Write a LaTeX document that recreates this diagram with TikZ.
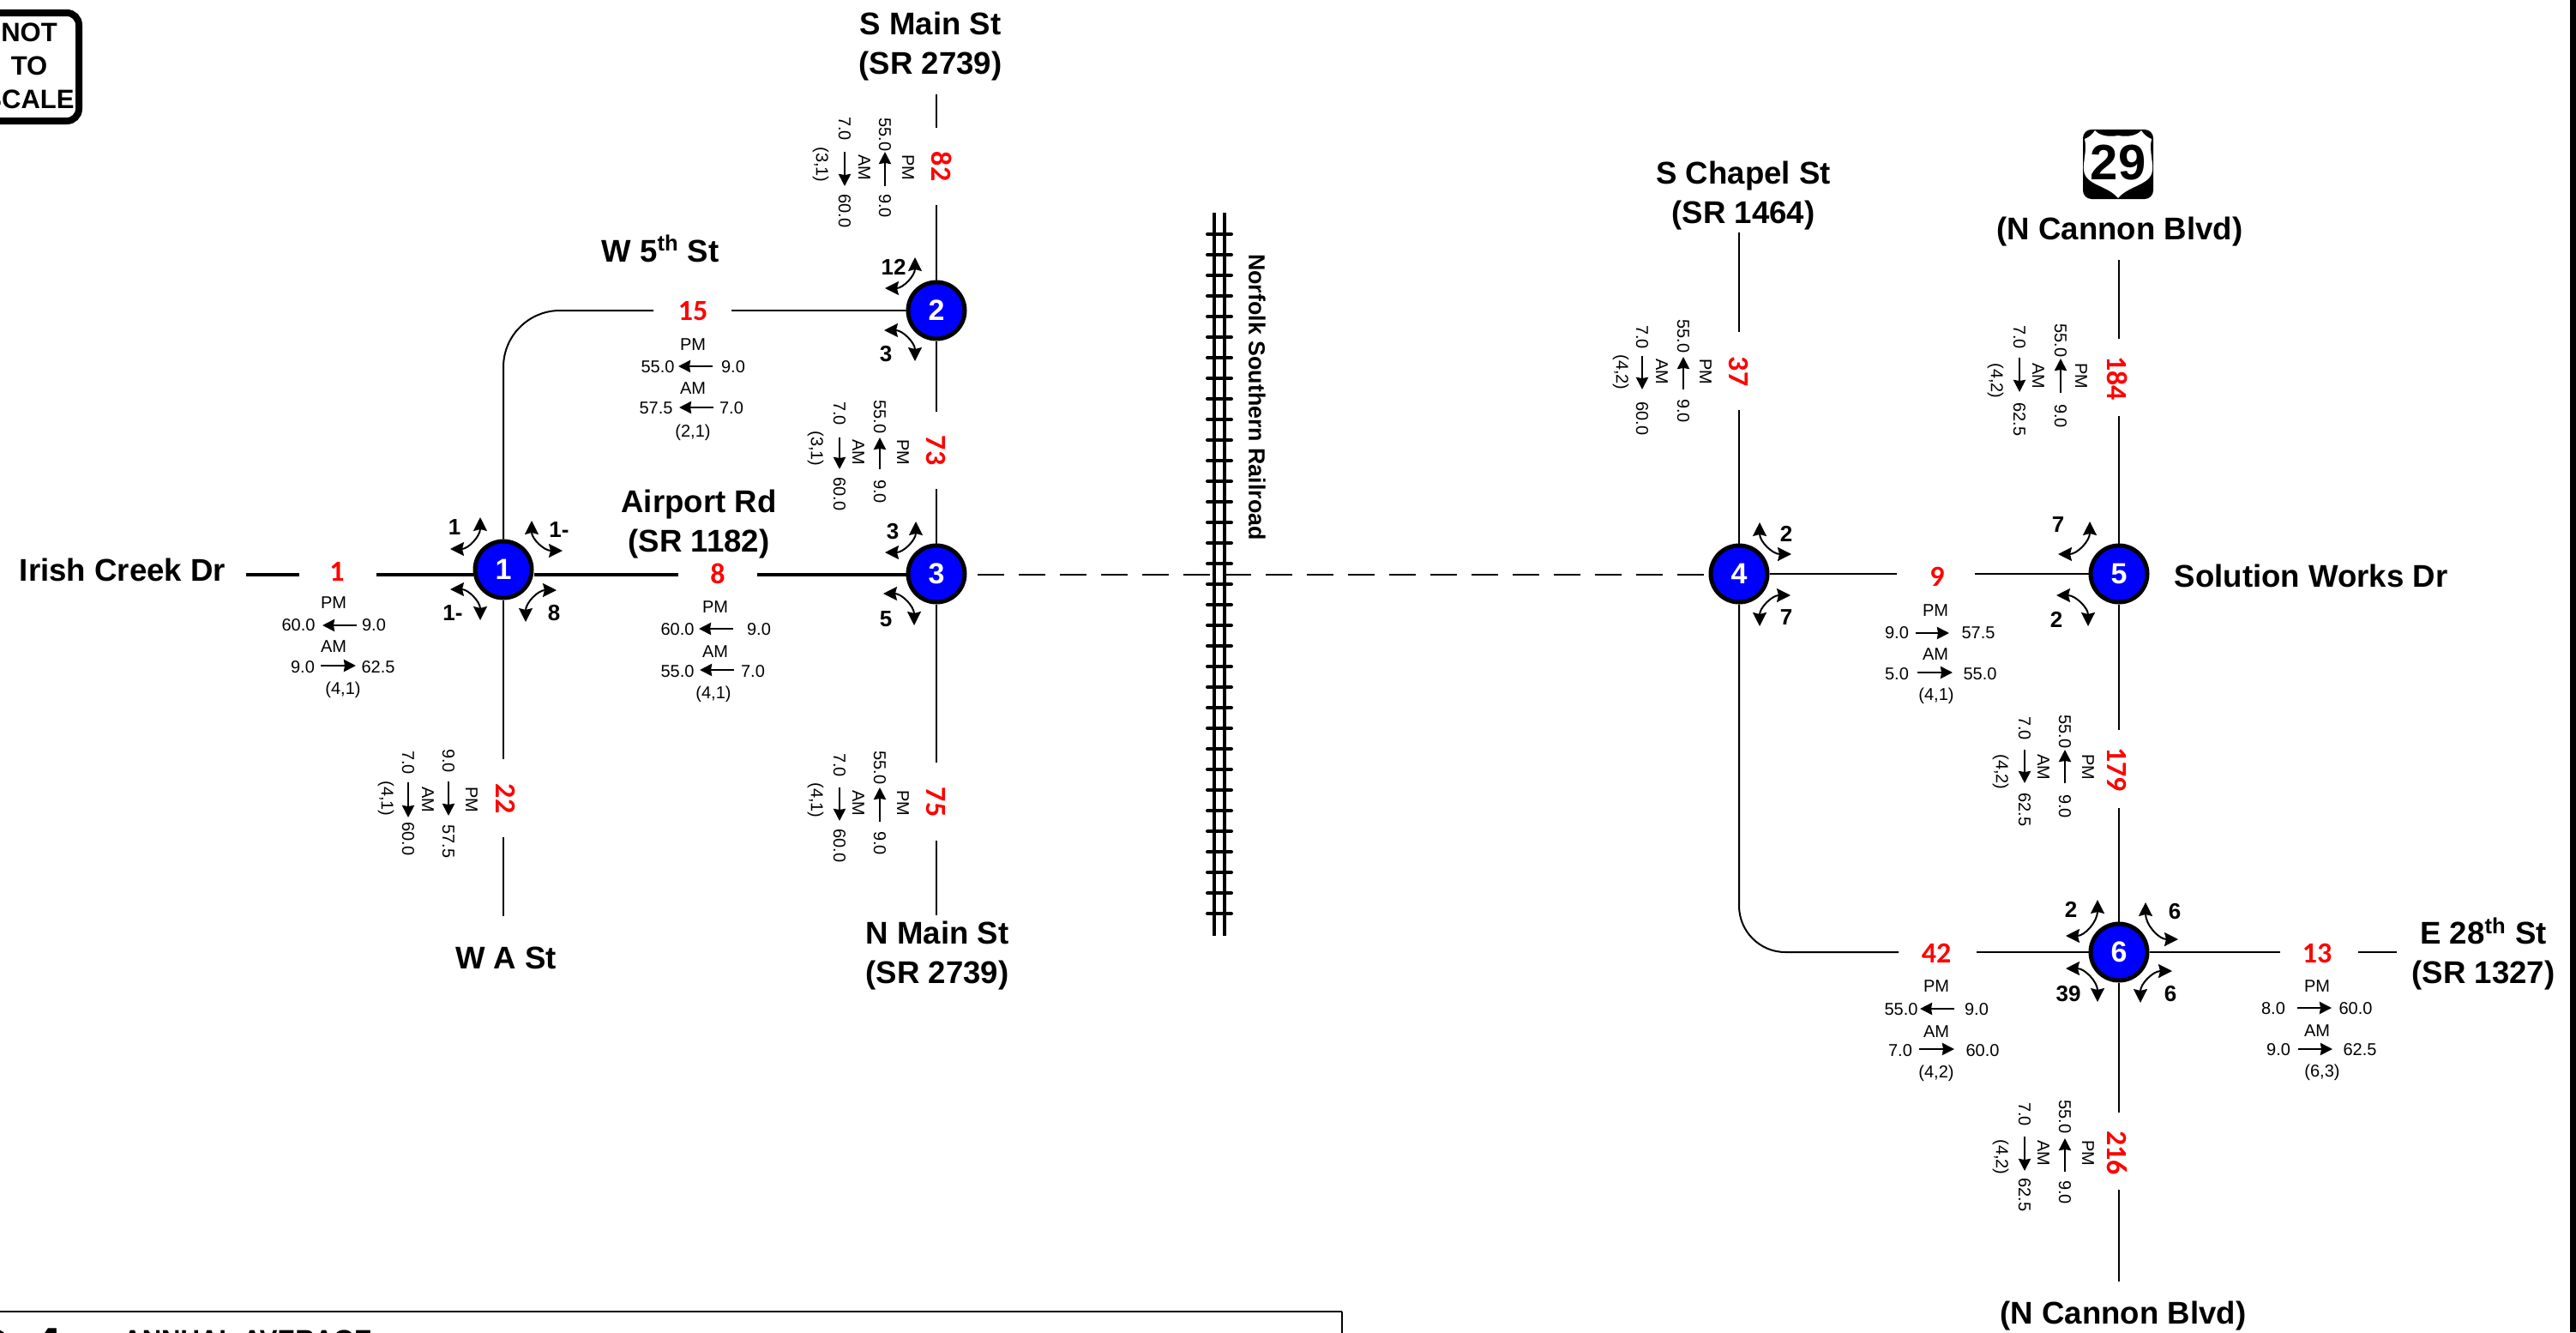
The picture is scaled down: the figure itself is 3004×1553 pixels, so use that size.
\documentclass[tikz,border=0pt]{standalone}
\usepackage{fontspec}
\usetikzlibrary{arrows.meta}
\setmainfont{Liberation Sans}
\newfontfamily\volfont{Carlito}
\newcount\labn
\labn=0
\tikzset{
  roadname/.style={font=\fontsize{18.3}{23}\selectfont\bfseries,align=center,inner sep=0pt},
  smalltxt/.style={font=\fontsize{10}{12}\selectfont,inner sep=0pt},
  vol/.style={font=\fontsize{17}{19}\selectfont\volfont\bfseries,text=red,inner sep=0pt},
  turnlab/.style={font=\fontsize{13}{15}\selectfont\bfseries,inner sep=0pt},
  junction/.style={circle,draw=black,fill=blue,line width=2.5pt,minimum size=33pt,inner sep=0pt,text=white,font=\fontsize{17}{19}\selectfont\bfseries},
  road/.style={line width=1.25pt},
  thickroad/.style={line width=1.8pt},
  thinroad/.style={line width=1pt},
  flow/.style={line width=1.4pt,-{Stealth[length=7pt,width=7pt,inset=0.5pt]}},
  turn/.style={line width=1pt,{Stealth[length=8pt,width=8pt,inset=1pt]}-{Stealth[length=8pt,width=8pt,inset=1pt]}},
  rail/.style={line width=2pt},
  tie/.style={line width=2pt,line cap=round},
}
\newcommand\hv[3]{\global\advance\labn by 1 \node[smalltxt] (t\the\labn) at (#1,#2) {#3};}
\newcommand\vv[3]{\global\advance\labn by 1 \node[smalltxt,rotate=-90] (t\the\labn) at (#1,#2) {#3};}
\newcommand\fa[4]{\draw[flow] (#1,#2) -- (#3,#4);}
\newcommand\turnar[4]{\draw[turn] (#1,#2) .. controls ({#1},{#2+0.6*(#4-#2)}) and ({#3+0.6*(#1-#3)},{#4}) .. (#3,#4);}
\newcommand\tl[3]{\global\advance\labn by 1 \node[turnlab] (t\the\labn) at (#1,#2) {#3};}
\begin{document}
\begin{tikzpicture}[x=0.5pt,y=-0.5pt]
\useasboundingbox (0,0) rectangle (3004,1553);
% junctions
\node[junction] (n1) at (587,664) {1};
\node[junction] (n2) at (1092,362) {2};
\node[junction] (n3) at (1092,669) {3};
\node[junction] (n4) at (2028,669) {4};
\node[junction] (n5) at (2471,669) {5};
\node[junction] (n6) at (2471,1110) {6};
% volumes
\node[vol] (v1) at (393,666) {1};
\node[vol] (v8) at (837,669) {8};
\node[vol] (v15) at (808,363) {15};
\node[vol,rotate=-90] (v82) at (1098,194) {82};
\node[vol,rotate=-90] (v73) at (1092,525) {73};
\node[vol,rotate=-90] (v75) at (1091,935) {75};
\node[vol,rotate=-90] (v22) at (590,931) {22};
\node[vol,rotate=-90] (v37) at (2028,433) {37};
\node[vol,rotate=-90] (v184) at (2469,441) {184};
\node[vol] (v9) at (2259,672) {9};
\node[vol,rotate=-90] (v179) at (2469,897) {179};
\node[vol] (v42) at (2258,1111) {42};
\node[vol] (v13) at (2702,1111) {13};
\node[vol,rotate=-90] (v216) at (2469,1344) {216};
% road end points
\coordinate (a1) at (287,670); \coordinate (a2) at (349,670); \coordinate (a3) at (439,670);
\coordinate (b1) at (791,670); \coordinate (b2) at (883,670);
\coordinate (c1) at (587,885); \coordinate (c2) at (587,976); \coordinate (c3) at (587,1068);
\coordinate (e0) at (587,362); \coordinate (e1) at (762,362); \coordinate (e2) at (853,362);
\coordinate (f1) at (1092,110); \coordinate (f2) at (1092,149); \coordinate (f3) at (1092,239);
\coordinate (f4) at (1092,480); \coordinate (f5) at (1092,570);
\coordinate (f6) at (1092,889); \coordinate (f7) at (1092,980); \coordinate (f8) at (1092,1067);
\coordinate (d1) at (1140,670); \coordinate (d2) at (1987,670);
\coordinate (g1) at (2028,271); \coordinate (g2) at (2028,387); \coordinate (g3) at (2028,478);
\coordinate (g4) at (2028,1110); \coordinate (g5) at (2214,1110); \coordinate (g6) at (2305,1110);
\coordinate (h1) at (2212,669); \coordinate (h2) at (2303,669);
\coordinate (i1) at (2471,303); \coordinate (i2) at (2471,395); \coordinate (i3) at (2471,485);
\coordinate (i4) at (2471,851); \coordinate (i5) at (2471,942);
\coordinate (i6) at (2471,1297); \coordinate (i7) at (2471,1387); \coordinate (i8) at (2471,1494);
\coordinate (k1) at (2659,1110); \coordinate (k2) at (2750,1110); \coordinate (k3) at (2795,1110);
% roads
\draw[thickroad] (a1) -- (a2);
\draw[thickroad] (a3) -- (n1.west |- a3);
\draw[thickroad] (n1.east |- b1) -- (b1);
\draw[thickroad] (b2) -- (n3.west |- b2);
\draw[road] (n1) -- (c1);
\draw[road] (c2) -- (c3);
\draw[thinroad,rounded corners=33pt] (n1) -- (e0) -- (e1);
\draw[thinroad] (e2) -- (n2);
\draw[road] (f1) -- (f2);
\draw[road] (f3) -- (n2);
\draw[road] (n2) -- (f4);
\draw[road] (f5) -- (n3);
\draw[road] (n3) -- (f6);
\draw[road] (f7) -- (f8);
\draw[road,dash pattern=on 15.5pt off 8.5pt] (d1) -- (d2);
\draw[road] (g1) -- (g2);
\draw[road] (g3) -- (n4);
\draw[thinroad,rounded corners=27pt] (n4) -- (g4) -- (g5);
\draw[road] (g6) -- (n6);
\draw[road] (n4) -- (h1);
\draw[road] (h2) -- (n5);
\draw[road] (i1) -- (i2);
\draw[road] (i3) -- (n5);
\draw[road] (n5) -- (i4);
\draw[road] (i5) -- (n6);
\draw[road] (n6) -- (i6);
\draw[road] (i7) -- (i8);
\draw[road] (n6) -- (k1);
\draw[road] (k2) -- (k3);
% railroad
\draw[rail] (1416,248) -- (1416,1091);
\draw[rail] (1428,248) -- (1428,1091);
\foreach \ty in {0,...,33} {\draw[tie] (1408,273+24*\ty) -- (1436,273+24*\ty);}
\node[font=\fontsize{13.4}{15}\selectfont\bfseries,rotate=-90,inner sep=0pt] (rr) at (1466,463) {Norfolk Southern Railroad};
% road names
\node[roadname] (r1) at (1085,54) {S Main St\\(SR 2739)};
\node[roadname] (r2) at (1093,1114) {N Main St\\(SR 2739)};
\node[roadname] (r3) at (770,290) {W 5\textsuperscript{th} St};
\node[roadname] (r4) at (815,611) {Airport Rd\\(SR 1182)};
\node[roadname] (r5) at (143,664) {Irish Creek Dr};
\node[roadname] (r6) at (590,1117) {W A St};
\node[roadname] (r7) at (2033,228) {S Chapel St\\(SR 1464)};
\node[roadname] (r8) at (2472,270) {(N Cannon Blvd)};
\node[roadname] (r9) at (2695,671) {Solution Works Dr};
\node[roadname] (r10) at (2896,1112) {E 28\textsuperscript{th} St\\(SR 1327)};
\node[roadname] (r11) at (2476,1534) {(N Cannon Blvd)};
% shield
\fill[black,rounded corners=5pt] (2429,151) rectangle (2511,232);
\fill[white] (2470,158) .. controls (2482,160) and (2492,158) .. (2497,152)
  .. controls (2500,157) and (2504,160) .. (2509,162)
  .. controls (2506,175) and (2511,188) .. (2510,198)
  .. controls (2509,216) and (2482,216) .. (2470,231)
  .. controls (2458,216) and (2431,216) .. (2430,198)
  .. controls (2429,188) and (2434,175) .. (2431,162)
  .. controls (2436,160) and (2440,157) .. (2443,152)
  .. controls (2448,158) and (2458,160) .. (2470,158) -- cycle;
\node[font=\fontsize{29}{31}\selectfont\bfseries,inner sep=0pt] (sh) at (2470,190) {29};
% not to scale
\draw[line width=4pt,rounded corners=7pt] (-40,15) rectangle (92,141);
\node[font=\fontsize{15.5}{19.5}\selectfont\bfseries,align=center,inner sep=0pt] (nts) at (34,77) {NOT\\TO\\SCALE};
% legend
\draw[line width=1.2pt] (-10,1529) -- (1565,1529);
\draw[line width=0.6pt] (1565,1529) -- (1565,1560);
\node[font=\fontsize{32.5}{34}\selectfont\bfseries,anchor=base east,inner sep=0pt] (lg1) at (73,1593) {D-4};
\node[font=\fontsize{15.5}{17}\selectfont\bfseries,anchor=base west,inner sep=0pt] (lg2) at (143,1572) {ANNUAL AVERAGE};
% right bar
\fill[black] (2997,0) rectangle (3004,1553);
% turn arrows and labels
\turnar{560}{603}{525}{640}\turnar{620}{607}{656}{642}\turnar{560}{723}{525}{687}\turnar{613}{725}{649}{688}
\tl{530}{615}{1}\tl{652}{618}{1-}\tl{528}{715}{1-}\tl{646}{715}{8}
\turnar{1067}{300}{1032}{336}\turnar{1067}{421}{1031}{385}
\tl{1042}{311}{12}\tl{1033}{413}{3}
\turnar{1068}{608}{1032}{644}\turnar{1066}{729}{1030}{692}
\tl{1041}{620}{3}\tl{1033}{722}{5}
\turnar{2052}{609}{2089}{646}\turnar{2052}{730}{2088}{694}
\tl{2083}{622}{2}\tl{2083}{720}{7}
\turnar{2437}{608}{2400}{646}\turnar{2435}{730}{2398}{694}
\tl{2400}{612}{7}\tl{2398}{722}{2}
\turnar{2446}{1049}{2409}{1091}\turnar{2502}{1052}{2540}{1095}\turnar{2446}{1168}{2409}{1129}\turnar{2496}{1169}{2533}{1132}
\tl{2415}{1060}{2}\tl{2536}{1063}{6}\tl{2412}{1159}{39}\tl{2531}{1159}{6}
% horizontal data blocks
\hv{389}{703}{PM}\hv{348}{729}{60.0}\fa{416}{729}{376}{729}\hv{436}{729}{9.0}
\hv{389}{754}{AM}\hv{353}{778}{9.0}\fa{374}{776}{415}{776}\hv{441}{778}{62.5}\hv{400}{804}{(4,1)}
\hv{834}{708}{PM}\hv{790}{734}{60.0}\fa{855}{733}{815}{733}\hv{885}{734}{9.0}
\hv{834}{760}{AM}\hv{790}{783}{55.0}\fa{856}{781}{816}{781}\hv{878}{783}{7.0}\hv{832}{809}{(4,1)}
\hv{808}{402}{PM}\hv{767}{428}{55.0}\fa{831}{427}{791}{427}\hv{855}{428}{9.0}
\hv{808}{453}{AM}\hv{765}{476}{57.5}\fa{832}{475}{792}{475}\hv{853}{476}{7.0}\hv{808}{504}{(2,1)}
\hv{2257}{712}{PM}\hv{2212}{738}{9.0}\fa{2234}{738}{2273}{738}\hv{2307}{738}{57.5}
\hv{2257}{763}{AM}\hv{2212}{786}{5.0}\fa{2236}{784}{2277}{784}\hv{2309}{786}{55.0}\hv{2258}{811}{(4,1)}
\hv{2258}{1150}{PM}\hv{2217}{1177}{55.0}\fa{2279}{1176}{2239}{1176}\hv{2305}{1177}{9.0}
\hv{2258}{1203}{AM}\hv{2216}{1225}{7.0}\fa{2238}{1223}{2279}{1223}\hv{2312}{1225}{60.0}\hv{2258}{1251}{(4,2)}
\hv{2702}{1150}{PM}\hv{2651}{1176}{8.0}\fa{2679}{1175}{2719}{1175}\hv{2747}{1176}{60.0}
\hv{2702}{1202}{AM}\hv{2657}{1224}{9.0}\fa{2680}{1223}{2720}{1223}\hv{2752}{1224}{62.5}\hv{2708}{1250}{(6,3)}
% vertical data blocks
\vv{1059}{195}{PM}\fa{1032}{217}{1032}{177}\vv{1032}{157}{55.0}\vv{1032}{240}{9.0}
\vv{1008}{195}{AM}\fa{985}{177}{985}{217}\vv{985}{150}{7.0}\vv{985}{246}{60.0}\vv{957}{192}{(3,1)}
\vv{1053}{527}{PM}\fa{1026}{547}{1026}{510}\vv{1026}{486}{55.0}\vv{1026}{573}{9.0}
\vv{1001}{527}{AM}\fa{979}{510}{979}{547}\vv{979}{482}{7.0}\vv{979}{576}{60.0}\vv{951}{523}{(3,1)}
\vv{1053}{936}{PM}\fa{1026}{958}{1026}{918}\vv{1026}{895}{55.0}\vv{1026}{983}{9.0}
\vv{1001}{936}{AM}\fa{979}{918}{979}{957}\vv{979}{892}{7.0}\vv{979}{986}{60.0}\vv{951}{933}{(4,1)}
\vv{550}{932}{PM}\fa{523}{911}{523}{951}\vv{523}{887}{9.0}\vv{523}{981}{57.5}
\vv{499}{932}{AM}\fa{476}{912}{476}{953}\vv{476}{889}{7.0}\vv{476}{978}{60.0}\vv{450}{931}{(4,1)}
\vv{1989}{433}{PM}\fa{1963}{454}{1963}{416}\vv{1963}{392}{55.0}\vv{1963}{479}{9.0}
\vv{1938}{433}{AM}\fa{1915}{415}{1915}{454}\vv{1915}{393}{7.0}\vv{1915}{488}{60.0}\vv{1890}{434}{(4,2)}
\vv{2427}{438}{PM}\fa{2403}{458}{2403}{418}\vv{2403}{397}{55.0}\vv{2403}{485}{9.0}
\vv{2377}{438}{AM}\fa{2355}{417}{2355}{457}\vv{2355}{393}{7.0}\vv{2355}{489}{62.5}\vv{2327}{444}{(4,2)}
\vv{2435}{894}{PM}\fa{2408}{913}{2408}{874}\vv{2408}{853}{55.0}\vv{2408}{940}{9.0}
\vv{2383}{894}{AM}\fa{2361}{874}{2361}{913}\vv{2361}{849}{7.0}\vv{2361}{944}{62.5}\vv{2333}{900}{(4,2)}
\vv{2435}{1344}{PM}\fa{2408}{1366}{2408}{1327}\vv{2408}{1302}{55.0}\vv{2408}{1390}{9.0}
\vv{2383}{1344}{AM}\fa{2361}{1325}{2361}{1365}\vv{2361}{1299}{7.0}\vv{2361}{1393}{62.5}\vv{2333}{1349}{(4,2)}
\end{tikzpicture}
\end{document}
